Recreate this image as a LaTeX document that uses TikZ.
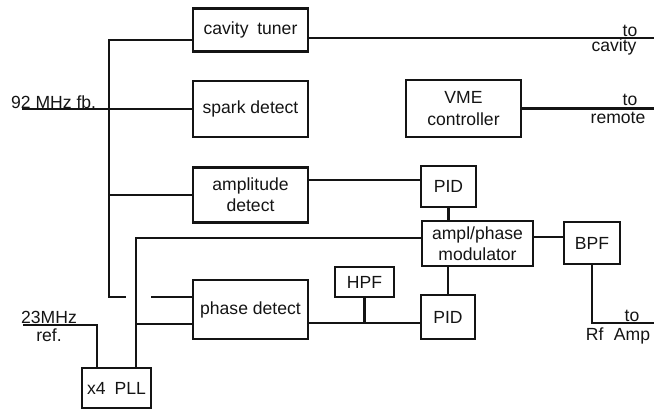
\documentclass[tikz,border=0pt]{standalone}
\usepackage{fontspec}
\setmainfont{Liberation Sans}
\usepackage{tikz}
\usetikzlibrary{positioning, calc}
\definecolor{ink}{RGB}{20,20,20}
\tikzset{
  block/.style  ={rectangle, draw=ink, line width=1.3pt, inner sep=3pt,
                  font=\normalsize, align=center, text=ink},
  wire/.style   ={line width=1.3pt, color=ink},
  sigtext/.style={font=\normalsize, text=ink, inner sep=1pt},
}

\begin{document}
\begin{tikzpicture}[x=0.02cm, y=-0.02cm]
\useasboundingbox (0,0) rectangle (654,410);

\node[block, minimum width=2.3cm, minimum height=0.86cm] (tuner) at (250.5, 30)
  {cavity\hspace{5pt}tuner};
\node[block, minimum width=2.3cm, minimum height=1.12cm] (spark) at (250.5, 109)
  {spark detect};
\node[block, minimum width=2.3cm, minimum height=1.1cm] (ampl) at (250.5, 195)
  {amplitude\\detect};
\node[block, minimum width=2.3cm, minimum height=1.18cm] (phase) at (250.5, 309.5)
  {phase detect};
\node[block, minimum width=2.3cm, minimum height=1.14cm] (vme) at (463.5, 108.5)
  {VME\\controller};

\node[block, minimum width=1.1cm, minimum height=0.82cm] (pidA) at (448.5, 186.5) {PID};
\node[block, minimum width=2.22cm, minimum height=0.86cm] (mod) at (477.5, 243.5)
  {ampl/phase\\modulator};
\node[block, minimum width=1.12cm, minimum height=0.84cm] (bpf) at (592, 243) {BPF};
\node[block, minimum width=1.18cm, minimum height=0.6cm] (hpf) at (364.5, 282) {HPF};
\node[block, minimum width=1.08cm, minimum height=0.88cm] (pidB) at (448, 317) {PID};
\node[block, minimum width=1.38cm, minimum height=0.8cm] (pll) at (116.5, 388) {x4\hspace{5pt}PLL};

\coordinate (fbin) at (22,109);
\coordinate (bustop) at (109,40);
\coordinate (busamp) at (109,195);
\coordinate (busbot) at (109,297);
\coordinate (hopL) at (126,297);
\coordinate (hopR) at (151,297);
\coordinate (pllbend) at (136,238);
\coordinate (pllfork) at (136,324);
\coordinate (refin) at (23,325);
\coordinate (refbend) at (97,325);
\coordinate (tocav) at (654,38);
\coordinate (torem) at (654,107);
\coordinate (toamp) at (654,323);
\coordinate (ampout) at (308,180);
\coordinate (phout) at (308,323);
\coordinate (modout) at (533,237);

% feedback bus
\draw[wire] (tuner.west |- bustop) -- (bustop) -- (busbot) -- (hopL);
\draw[wire] (hopR) -- (phase.west |- hopR);
\draw[wire] (fbin) -- (spark.west);
\draw[wire] (busamp) -- (ampl.west);
\draw[wire] (tuner.east |- tocav) -- (tocav);
\draw[wire] (vme.east) -- (vme.east -| torem);

% loops
\draw[wire] (ampout) -- (ampout -| pidA.west);
\draw[wire] (pidA.south) -- (pidA.south |- mod.north);
\draw[wire] (pll.north -| pllbend) -- (pllbend) -- (pllbend -| mod.west);
\draw[wire] (pllfork) -- (pllfork -| phase.west);
\draw[wire] (refin) -- (refbend) -- (refbend |- pll.north);
\draw[wire] (phout) -- (phout -| pidB.west);
\draw[wire] (hpf.south) -- (hpf.south |- phout);
\draw[wire] (pidB.north) -- (pidB.north |- mod.south);
\draw[wire] (modout) -- (modout -| bpf.west);
\draw[wire] (bpf.south) -- (bpf.south |- toamp) -- (toamp);

% signal labels
\node[sigtext, anchor=base west] (fblbl) at (9,108) {92 MHz fb.};
\node[sigtext, anchor=base] (tocavlbl) at (630,36) {to};
\node[sigtext] (cavlbl) at (614,47) {cavity};
\node[sigtext, anchor=base] (toremlbl) at (630,105) {to};
\node[sigtext] (remlbl) at (618,118) {remote};
\node[sigtext, anchor=base] (reflblA) at (49,323) {23MHz};
\node[sigtext] (reflblB) at (49,335) {ref.};
\node[sigtext, anchor=base] (toamplbl) at (632,321) {to};
\node[sigtext] (amplbl) at (618,336) {Rf\hspace{6pt}Amp};
\end{tikzpicture}
\end{document}
